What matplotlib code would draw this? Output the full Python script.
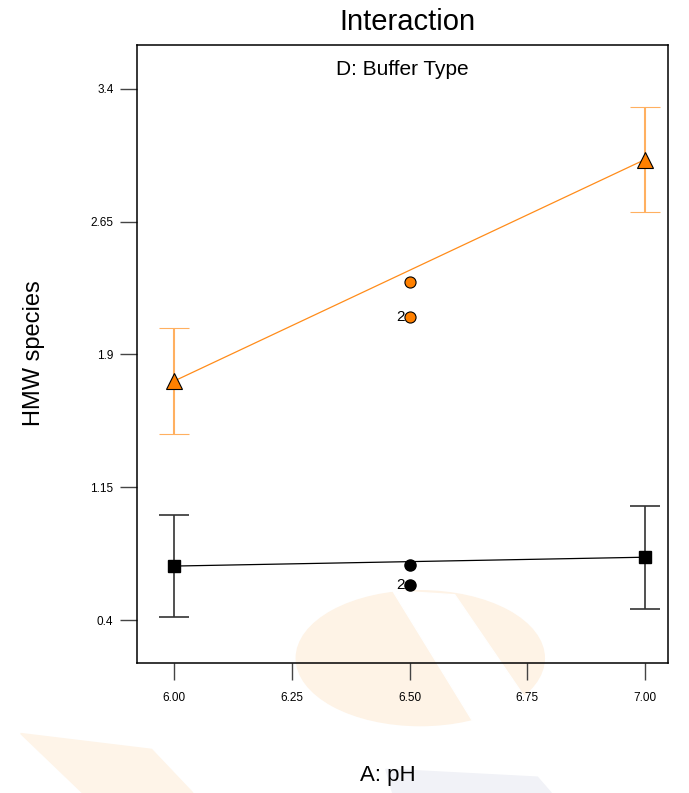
import numpy as np
import matplotlib
matplotlib.use("Agg")
import matplotlib.pyplot as plt
from matplotlib.patches import Ellipse, Polygon

plt.rcParams['font.family'] = ['Liberation Sans', 'DejaVu Sans']

# factor levels (A: pH)
ph = [6.0, 7.0]
# buffer type 1 (orange, triangles)
orange_mean = [1.75, 3.0]
orange_err = [0.30, 0.295]
# buffer type 2 (black, squares)
black_mean = [0.705, 0.755]
black_err = [0.29, 0.29]
# centre points at pH 6.5
center_ph = 6.5
orange_center = [2.31, 2.11]
black_center = [0.71, 0.60]
center_counts = [1, 2]

yticks = [0.4, 1.15, 1.9, 2.65, 3.4]
ytick_labels = ['0.4', '1.15', '1.9', '2.65', '3.4']
xticks = [6.0, 6.25, 6.5, 6.75, 7.0]
xtick_labels = ['6.00', '6.25', '6.50', '6.75', '7.00']

fig = plt.figure(figsize=(6.89, 7.93), dpi=100)

# faint background watermark
wm = [
    Ellipse((0.61, 0.17), 0.36, 0.17, transform=fig.transFigure, color='#fef3e6'),
    Polygon([[0.57, 0.255], [0.66, 0.25], [0.77, 0.11], [0.69, 0.085]],
            closed=True, transform=fig.transFigure, color='white'),
    Polygon([[0.03, 0.075], [0.22, 0.055], [0.28, 0.0], [0.12, 0.0]],
            closed=True, transform=fig.transFigure, color='#fef4e8'),
    Polygon([[0.56, 0.03], [0.78, 0.02], [0.80, 0.0], [0.57, 0.0]],
            closed=True, transform=fig.transFigure, color='#f1f2f7'),
]
for p in wm:
    p.set_zorder(-5)
    fig.patches.append(p)

ax = fig.add_axes([0.199, 0.164, 0.7705, 0.7795])
ax.set_facecolor('none')
ax.set_zorder(2)

ax.errorbar(ph, orange_mean, yerr=orange_err, color='#ff8c1a', lw=0.9,
            ecolor='#ffb060', elinewidth=1.5, capsize=11, capthick=1.5,
            marker='^', markersize=11, markerfacecolor='#ff8000',
            markeredgecolor='black', markeredgewidth=0.8, zorder=3)
ax.errorbar(ph, black_mean, yerr=black_err, color='black', lw=0.9,
            ecolor='#333333', elinewidth=1.2, capsize=11, capthick=1.2,
            marker='s', markersize=8, markerfacecolor='black',
            markeredgecolor='black', zorder=3)

ax.plot([center_ph] * 2, orange_center, 'o', markersize=8, markerfacecolor='#ff8000',
        markeredgecolor='black', markeredgewidth=0.8, zorder=4)
ax.plot([center_ph] * 2, black_center, 'o', markersize=8, markerfacecolor='black',
        markeredgecolor='black', zorder=4)
for vals in (orange_center, black_center):
    for v, n in zip(vals, center_counts):
        if n > 1:
            ax.annotate(str(n), (center_ph, v), xytext=(-3.5, 0), textcoords='offset points',
                        ha='right', va='center', fontsize=11)

ax.set_xlim(5.921, 7.049)
ax.set_ylim(0.158, 3.648)
ax.set_xticks(xticks)
ax.set_xticklabels(xtick_labels, fontsize=8.5)
ax.set_yticks(yticks)
ax.set_yticklabels(ytick_labels, fontsize=8.5)
ax.tick_params(direction='out', length=12, width=1.0, color='#444444', pad=5)
ax.tick_params(axis='x', pad=9)
for s in ax.spines.values():
    s.set_linewidth(1.1)

ax.text(0.5, 0.975, 'D: Buffer Type', transform=ax.transAxes, ha='center', va='top', fontsize=15)
fig.text(0.592, 0.972, 'Interaction', ha='center', va='center', fontsize=21)
fig.text(0.05, 0.555, 'HMW species', rotation=90, ha='center', va='center', fontsize=17)
fig.text(0.563, 0.022, 'A: pH', ha='center', va='center', fontsize=16)

fig.savefig('out.png', dpi=100)
